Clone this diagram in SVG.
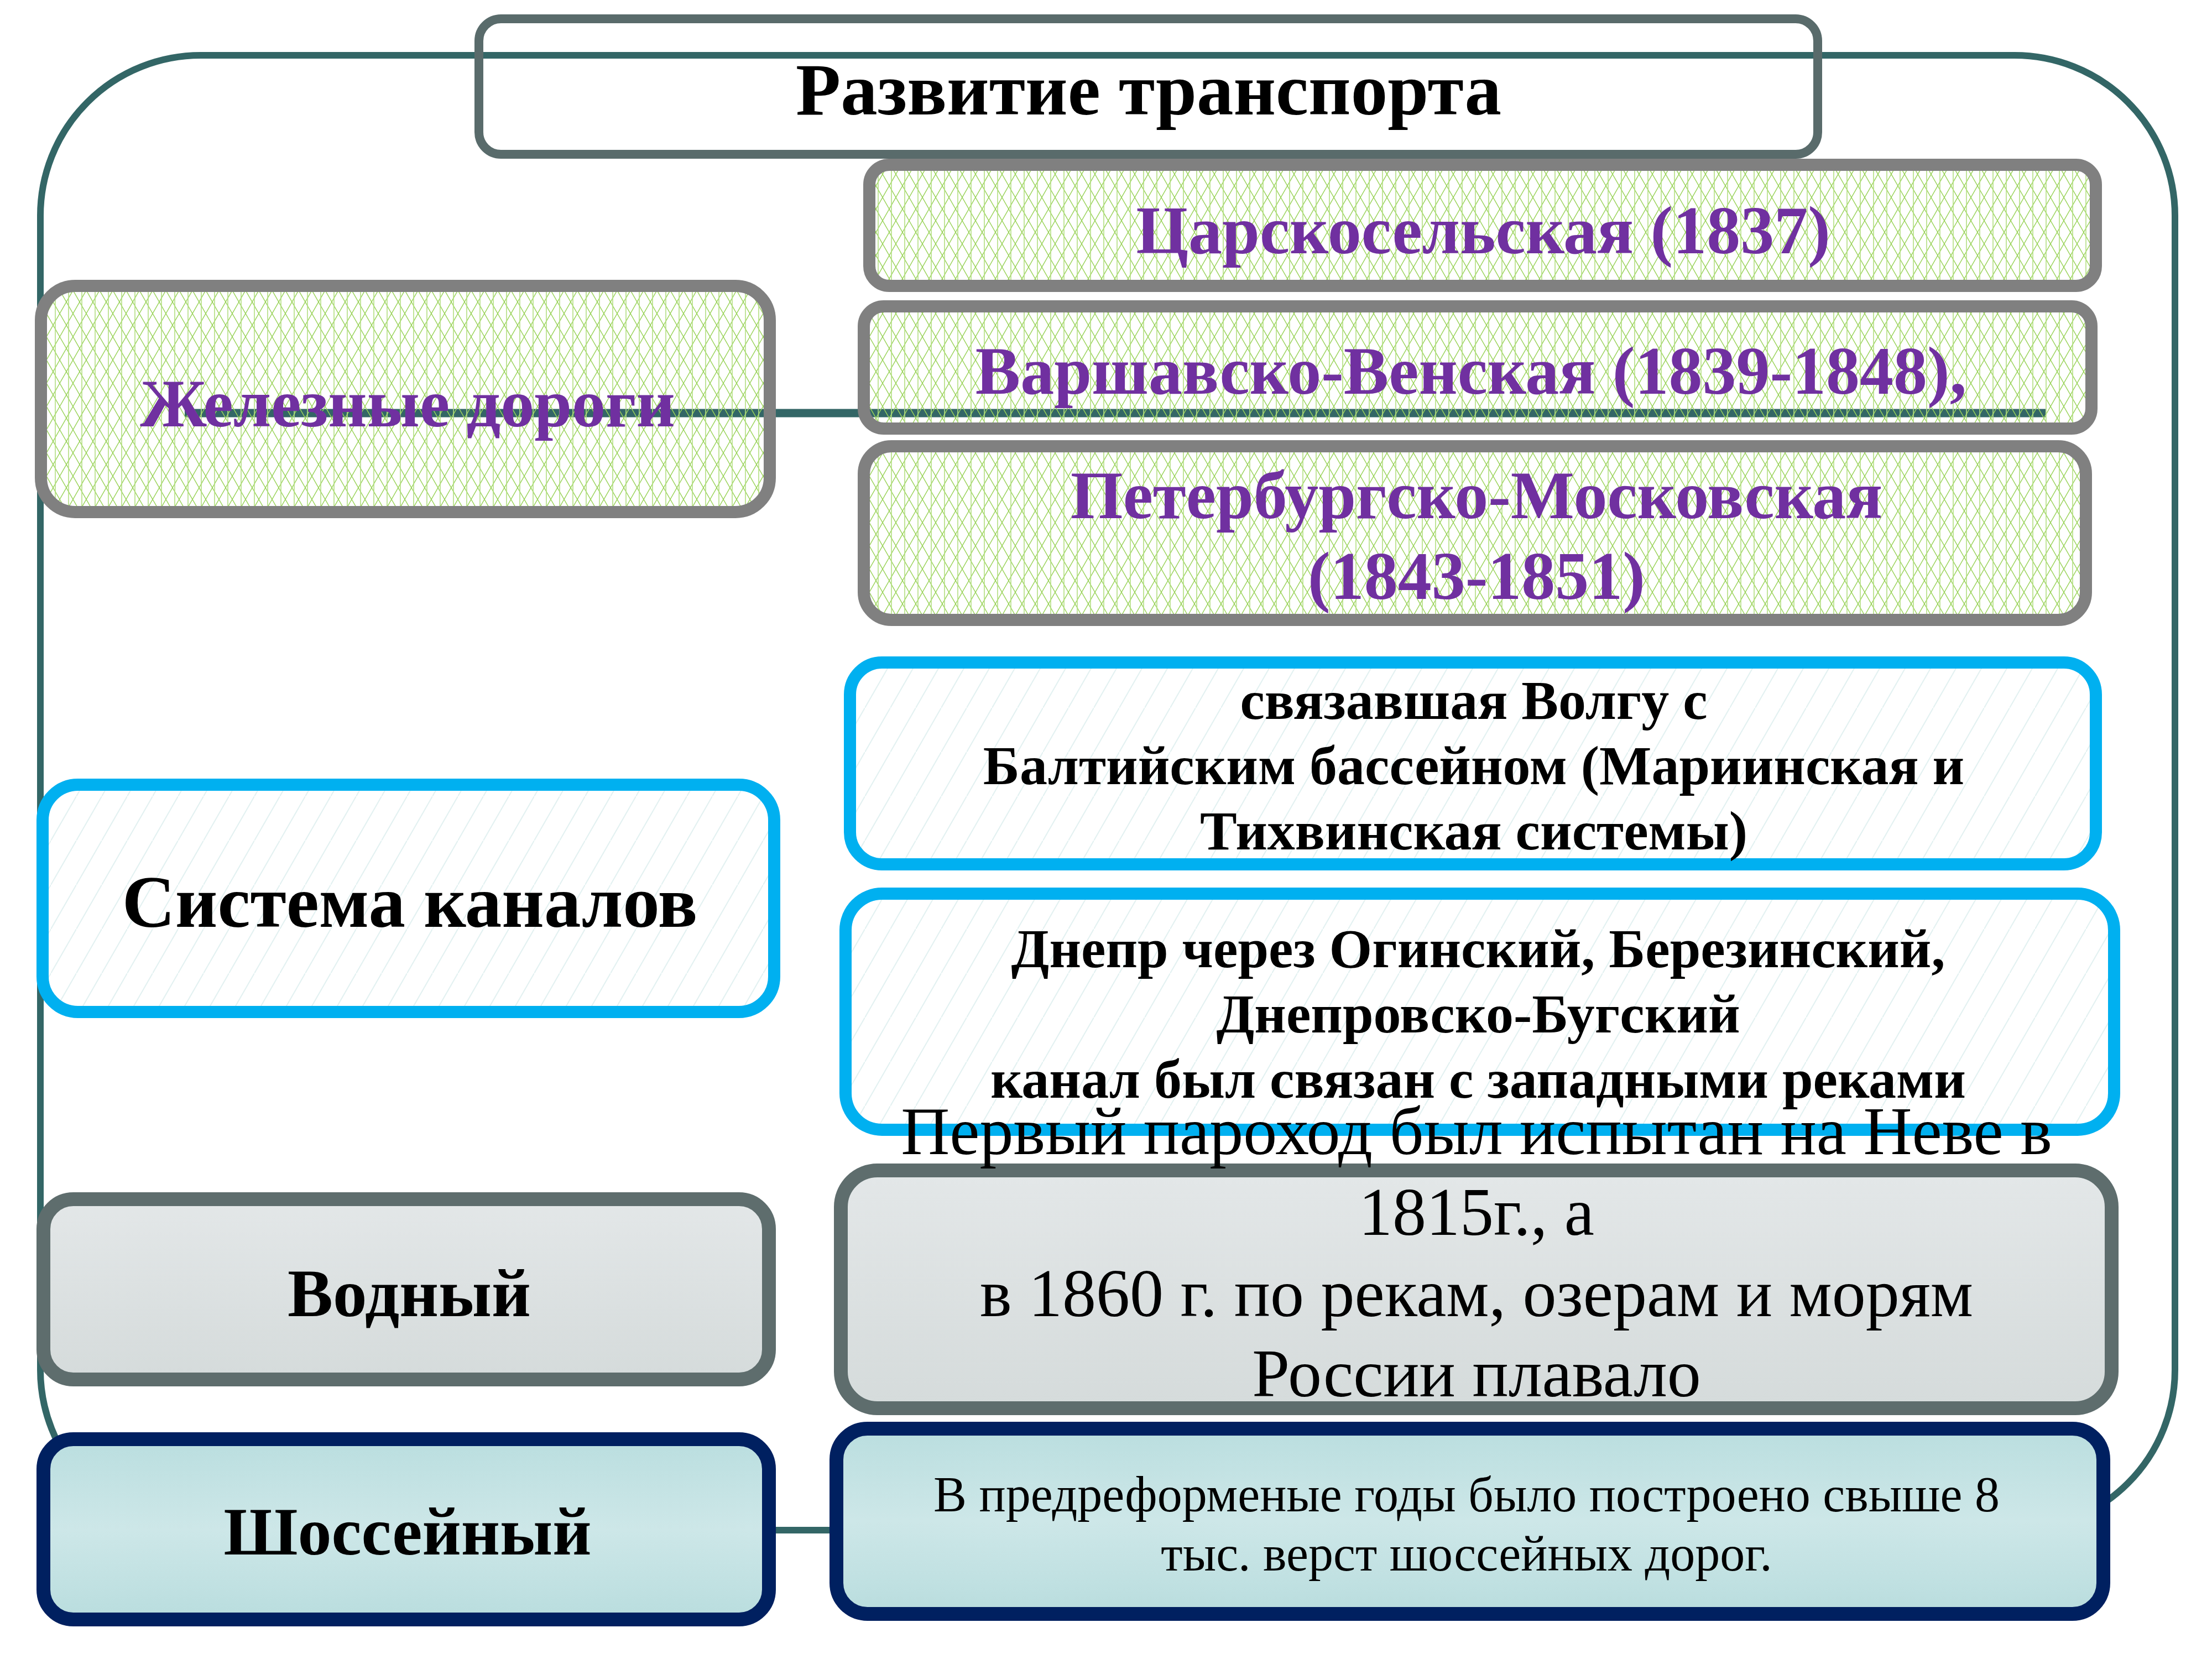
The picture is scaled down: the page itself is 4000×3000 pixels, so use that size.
<svg xmlns="http://www.w3.org/2000/svg" width="4000" height="3000" viewBox="0 0 4000 3000">
<defs>
<pattern id="hatch" patternUnits="userSpaceOnUse" width="24" height="42">
<path d="M0,0 L24,42 M24,0 L0,42" stroke="#9AD35A" stroke-width="1.4" fill="none"/>
<path d="M4,0 V42" stroke="#B2DE80" stroke-width="1.6"/>
</pattern>
<pattern id="diag" patternUnits="userSpaceOnUse" width="46" height="80">
<rect width="46" height="80" fill="#FFFFFF"/>
<path d="M0,80 L46,0" stroke="#E2F1F1" stroke-width="2"/>
</pattern>
<linearGradient id="gWater" x1="0" y1="0" x2="0" y2="1">
<stop offset="0" stop-color="#E3E7E8"/>
<stop offset="1" stop-color="#D5DBDB"/>
</linearGradient>
<linearGradient id="gRoad" x1="0" y1="0" x2="0" y2="1">
<stop offset="0" stop-color="#BADEDF"/>
<stop offset="0.5" stop-color="#CDE7E8"/>
<stop offset="1" stop-color="#B9DDDE"/>
</linearGradient>
</defs>
<style>
.frame{fill:none;stroke:#336666;stroke-width:12}
.conn{stroke:#336666;stroke-width:15;fill:none}
.title{fill:none;stroke:#596B6B;stroke-width:16}
.rail{fill:url(#hatch);stroke:#808080;stroke-width:22}
.canal{fill:url(#diag);stroke:#00B0F0;stroke-width:22}
.water{fill:url(#gWater);stroke:#5E6D6D;stroke-width:25}
.road{fill:url(#gRoad);stroke:#002060;stroke-width:25}
text{font-family:"Liberation Serif","Times New Roman",serif;text-anchor:middle;fill:#000000}
.b{font-weight:bold}
.p{fill:#7030A0}
</style>
<rect width="4000" height="3000" fill="#FFFFFF"/>
<rect id="frame" class="frame" x="73" y="100" width="3860" height="2667" rx="290" ry="290"/>
<g id="connectors">
<line class="conn" x1="334" y1="747" x2="3699" y2="747"/>
</g>
<g id="title">
<rect class="title" x="866" y="34" width="2421" height="245" rx="40"/>
<text class="b" x="2077" y="207" font-size="133">Развитие транспорта</text>
</g>
<g id="railways">
<rect class="rail" x="74" y="517" width="1318" height="409" rx="62"/>
<text class="b p" x="737" y="771" font-size="122">Железные дороги</text>
</g>
<g id="tsarskoselskaya">
<rect class="rail" x="1572" y="298" width="2218" height="219" rx="36"/>
<text class="b p" x="2682" y="458" font-size="122">Царскосельская (1837)</text>
</g>
<g id="varshavsko-venskaya">
<rect class="rail" x="1562" y="554" width="2220" height="221" rx="36"/>
<text class="b p" x="2660" y="712" font-size="122">Варшавско-Венская (1839-1848),</text>
</g>
<g id="peterburgsko-moskovskaya">
<rect class="rail" x="1562" y="807" width="2210" height="314" rx="50"/>
<text class="b p" x="2670" y="937" font-size="122">Петербургско-Московская</text>
<text class="b p" x="2670" y="1083" font-size="122">(1843-1851)</text>
</g>
<g id="canals">
<rect class="canal" x="77" y="1419" width="1323" height="411" rx="64"/>
<text class="b" x="741" y="1676" font-size="133">Система каналов</text>
</g>
<g id="canal-volga">
<rect class="canal" x="1537" y="1198" width="2253" height="365" rx="58"/>
<text class="b" x="2665" y="1300" font-size="100">связавшая Волгу с</text>
<text class="b" x="2665" y="1418" font-size="100">Балтийским бассейном (Мариинская и</text>
<text class="b" x="2665" y="1536" font-size="100">Тихвинская системы)</text>
</g>
<g id="canal-dnepr">
<rect class="canal" x="1529" y="1616" width="2294" height="427" rx="66"/>
<text class="b" x="2673" y="1749" font-size="100">Днепр через Огинский, Березинский,</text>
<text class="b" x="2673" y="1867" font-size="100">Днепровско-Бугский</text>
<text class="b" x="2673" y="1985" font-size="100">канал был связан с западными реками</text>
</g>
<g id="water">
<rect class="water" x="78.5" y="2168.5" width="1312" height="326" rx="54"/>
<text class="b" x="740" y="2380" font-size="123">Водный</text>
</g>
<g id="water-text">
<rect class="water" x="1520.5" y="2116.5" width="2298" height="430" rx="66"/>
<text x="2670" y="2087" font-size="122">Первый пароход был испытан на Неве в</text>
<text x="2670" y="2233" font-size="122">1815г., а</text>
<text x="2670" y="2380" font-size="122">в 1860 г. по рекам, озерам и морям</text>
<text x="2670" y="2525" font-size="122">России плавало</text>
</g>
<g id="highway">
<rect class="road" x="78.5" y="2602.5" width="1312" height="326" rx="54"/>
<text class="b" x="737" y="2811" font-size="122">Шоссейный</text>
</g>
<g id="highway-text">
<rect class="road" x="1512.5" y="2583.5" width="2291" height="335" rx="56"/>
<text x="2652" y="2733" font-size="90">В предреформеные годы было построено свыше 8</text>
<text x="2652" y="2840" font-size="90">тыс. верст шоссейных дорог.</text>
</g>
</svg>
